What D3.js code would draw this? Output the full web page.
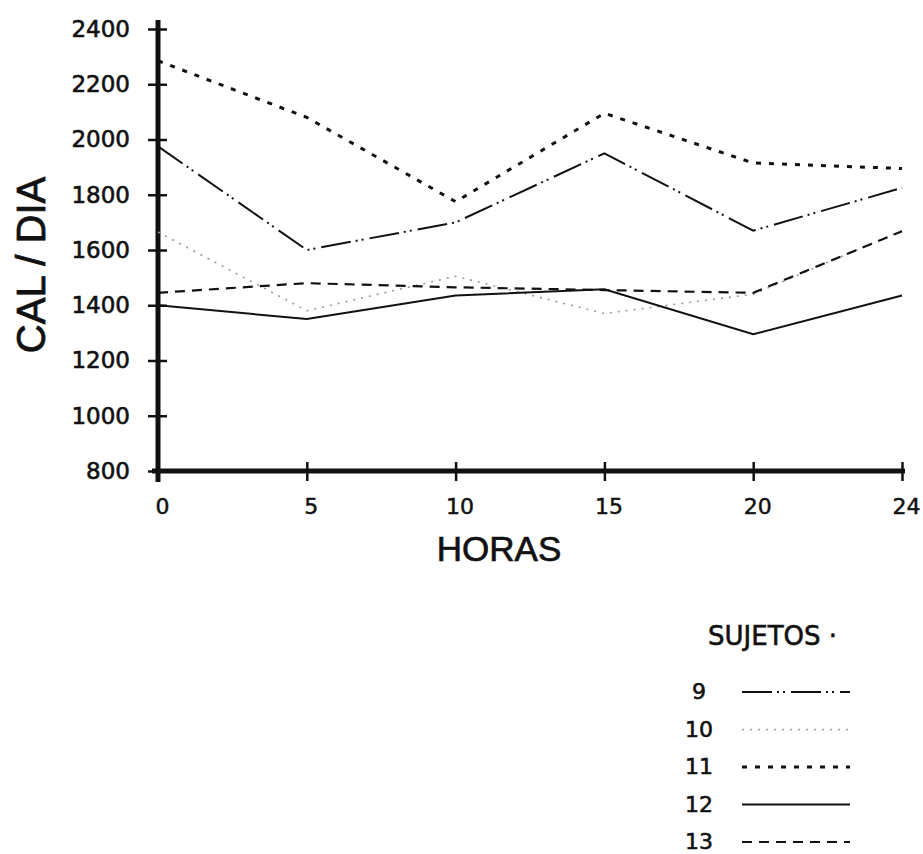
<!DOCTYPE html>
<html>
<head>
<meta charset="utf-8">
<script src="https://cdn.jsdelivr.net/npm/d3@7"></script>
<style>
  body { margin: 0; background: #fff; }
  svg { display: block; }
</style>
</head>
<body>
<svg width="923" height="854"></svg>
<script>
// horas (equally spaced in the original)
var horas = ["0", "5", "10", "15", "20", "24"];
var yTicks = [800, 1000, 1200, 1400, 1600, 1800, 2000, 2200, 2400];

// CAL / DIA por sujeto
var s9 = [1975, 1600, 1700, 1950, 1670, 1825];
var s10 = [1665, 1380, 1505, 1370, 1440, 1670];
var s11 = [2285, 2080, 1775, 2095, 1915, 1895];
var s12 = [1400, 1350, 1435, 1458, 1295, 1435];
var s13 = [1445, 1480, 1465, 1455, 1445, 1668];

var sujetos = ["9", "10", "11", "12", "13"];
var series = [s9, s10, s11, s12, s13];
var styles = [
  { dash: "30,5,2,4,2,6", color: "#111", w: 2 },
  { dash: "2,6", color: "#999", w: 1.6 },
  { dash: "5,8", color: "#111", w: 3 },
  { dash: null, color: "#111", w: 2 },
  { dash: "10,7", color: "#111", w: 2.2 }
];

var svg = d3.select("svg");

var x = d3.scalePoint().domain(horas).range([158, 902]);
var y = d3.scaleLinear().domain([800, 2400]).range([471, 29]);

// y axis
var gy = svg.append("g")
  .attr("transform", "translate(158,0)")
  .call(d3.axisLeft(y).tickValues(yTicks).tickSize(10).tickPadding(18).tickFormat(d3.format("d")));
gy.select(".domain").remove();
gy.selectAll(".tick line").attr("x1", -10).attr("x2", 9).attr("stroke", "#111").attr("stroke-width", 2.5);
gy.selectAll(".tick text")
  .attr("font-family", "DejaVu Sans")
  .attr("font-size", 23)
  .attr("fill", "#111")
  .attr("stroke", "#111")
  .attr("stroke-width", 0.6);

// x axis
var gx = svg.append("g")
  .attr("transform", "translate(0,471)")
  .call(d3.axisBottom(x).tickSize(10).tickPadding(17));
gx.select(".domain").remove();
gx.selectAll(".tick line").attr("y1", -9).attr("y2", 10).attr("stroke", "#111").attr("stroke-width", 2.5);
gx.selectAll(".tick text")
  .attr("dx", 4)
  .attr("font-family", "DejaVu Sans")
  .attr("font-size", 22)
  .attr("fill", "#111")
  .attr("stroke", "#111")
  .attr("stroke-width", 0.5);

// axis lines
svg.append("line")
  .attr("x1", 158).attr("x2", 158).attr("y1", 20).attr("y2", 482)
  .attr("stroke", "#111").attr("stroke-width", 5);
svg.append("line")
  .attr("x1", 152).attr("x2", 905).attr("y1", 471).attr("y2", 471)
  .attr("stroke", "#111").attr("stroke-width", 5);

// lines
var line = d3.line()
  .x((d, i) => x(horas[i]))
  .y((d) => y(d));

svg.append("g")
  .selectAll("path")
  .data(series)
  .enter()
  .append("path")
  .attr("d", (d) => line(d))
  .attr("fill", "none")
  .attr("stroke", (d, i) => styles[i].color)
  .attr("stroke-width", (d, i) => styles[i].w)
  .attr("stroke-dasharray", (d, i) => styles[i].dash);

// axis titles
svg.append("text")
  .attr("transform", "translate(45,265) rotate(-90)")
  .attr("text-anchor", "middle")
  .attr("font-family", "Liberation Sans")
  .attr("font-size", 40)
  .attr("fill", "#111")
  .attr("stroke", "#111")
  .attr("stroke-width", 0.8)
  .text("CAL / DIA");

svg.append("text")
  .attr("x", 499)
  .attr("y", 561)
  .attr("text-anchor", "middle")
  .attr("font-family", "Liberation Sans")
  .attr("font-size", 35)
  .attr("fill", "#111")
  .attr("stroke", "#111")
  .attr("stroke-width", 0.7)
  .text("HORAS");

// legend
svg.append("text")
  .attr("x", 708)
  .attr("y", 645)
  .attr("font-family", "DejaVu Sans")
  .attr("font-size", 26)
  .attr("fill", "#111")
  .attr("stroke", "#111")
  .attr("stroke-width", 0.6)
  .text("SUJETOS ·");

var leg = svg.append("g")
  .selectAll("g")
  .data(sujetos)
  .enter()
  .append("g")
  .attr("transform", (d, i) => "translate(0," + (691 + i * 37.5) + ")");

leg.append("text")
  .attr("x", 699)
  .attr("y", 8)
  .attr("text-anchor", "middle")
  .attr("font-family", "DejaVu Sans")
  .attr("font-size", 22)
  .attr("fill", "#111")
  .attr("stroke", "#111")
  .attr("stroke-width", 0.6)
  .text((d) => d);

leg.append("line")
  .attr("x1", 742).attr("x2", 850)
  .attr("y1", 1).attr("y2", 1)
  .attr("stroke", (d, i) => styles[i].color)
  .attr("stroke-width", (d, i) => styles[i].w)
  .attr("stroke-dasharray", (d, i) => styles[i].dash);
</script>
</body>
</html>
